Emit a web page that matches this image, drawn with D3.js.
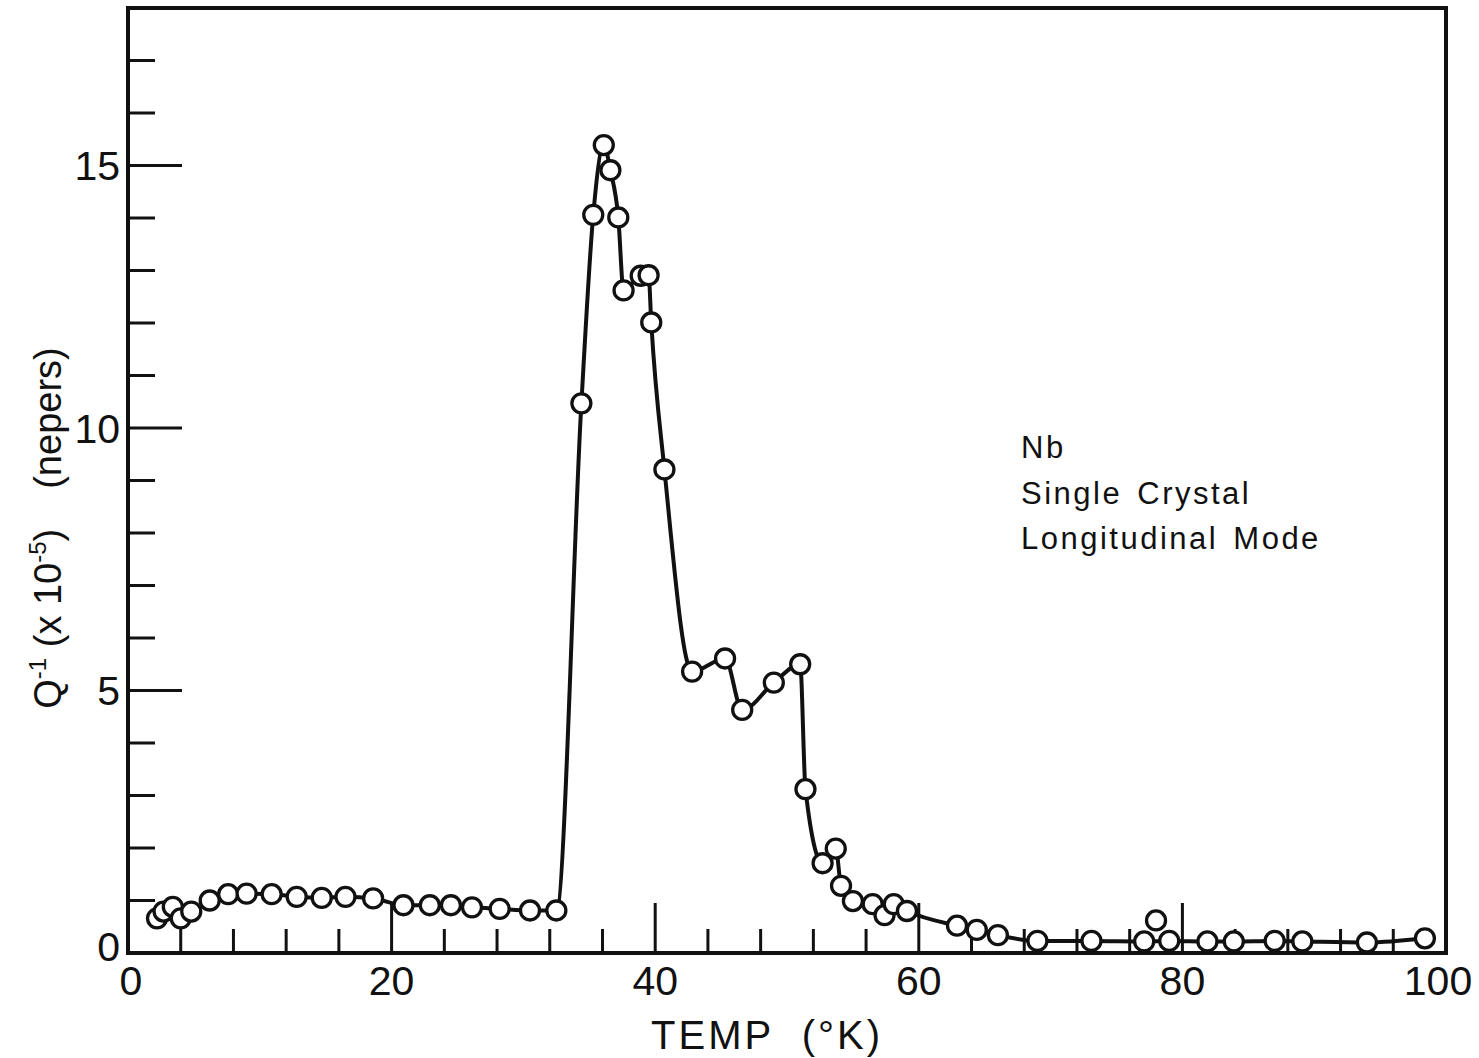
<!DOCTYPE html>
<html>
<head>
<meta charset="utf-8">
<script src="https://cdn.jsdelivr.net/npm/d3@7"></script>
<style>
  body { margin: 0; background: #fff; }
  text { font-family: "Liberation Sans", "DejaVu Sans", sans-serif; fill: #111; }
</style>
</head>
<body>
<div id="chart"></div>
<script>
// measured points, temperature (K) and Q^-1 (x 10^-5)
const temps = [2.2, 2.7, 3.4, 4.0, 4.8, 6.2, 7.6, 9.0, 10.9, 12.8, 14.7, 16.5, 18.6,
  20.9, 22.9, 24.5, 26.1, 28.2, 30.5, 32.5,
  34.4, 35.3, 36.1, 36.6, 37.2, 37.6, 38.9, 39.5, 39.7, 40.7,
  42.8, 45.3, 46.6, 49.0, 51.0, 51.4,
  52.7, 53.7, 54.1, 55.0, 56.5, 57.4, 58.1, 59.1,
  62.9, 64.4, 66.0, 69.0, 73.1, 77.1, 78.0, 79.0, 81.9, 83.9, 87.0, 89.1, 94.0, 98.4];
const qinv = [0.66, 0.79, 0.88, 0.66, 0.79, 1.0, 1.12, 1.13, 1.12, 1.07, 1.05, 1.07, 1.04,
  0.91, 0.91, 0.91, 0.87, 0.84, 0.81, 0.81,
  10.47, 14.06, 15.39, 14.91, 14.01, 12.62, 12.9, 12.91, 12.01, 9.21,
  5.36, 5.61, 4.63, 5.15, 5.5, 3.12,
  1.71, 1.99, 1.28, 0.99, 0.93, 0.72, 0.93, 0.8,
  0.52, 0.44, 0.34, 0.23, 0.23, 0.22, 0.62, 0.23, 0.22, 0.22, 0.23, 0.22, 0.2, 0.28];
// points the drawn curve does not pass through
const offCurve = [2.2, 4.0, 57.4, 78.0];

const xTicks = [0, 20, 40, 60, 80, 100];
const yTicks = [5, 10, 15];
const notes = ["Nb", "Single Crystal", "Longitudinal Mode"];

const width = 1479, height = 1058;
const margin = { top: 8, right: 33, bottom: 105, left: 128 };

const svg = d3.select("#chart").append("svg")
    .attr("width", width)
    .attr("height", height);

const x = d3.scaleLinear().domain([0, 100]).range([margin.left, width - margin.right]);
const y = d3.scaleLinear().domain([0, 18]).range([height - margin.bottom, margin.top]);

const pts = temps.map((t, i) => ({ t: t, q: qinv[i] }));

// frame
svg.append("rect")
    .attr("x", x(0)).attr("y", y(18))
    .attr("width", x(100) - x(0)).attr("height", y(0) - y(18))
    .attr("fill", "none").attr("stroke", "#111").attr("stroke-width", 4);

// inward ticks on bottom, every 4 K
svg.append("g")
    .selectAll("line")
    .data(d3.range(4, 100, 4))
    .join("line")
    .attr("x1", d => x(d)).attr("x2", d => x(d))
    .attr("y1", y(0))
    .attr("y2", d => y(0) - (d % 20 === 0 ? 50 : 24))
    .attr("stroke", "#111").attr("stroke-width", 3);

// inward ticks on left, every unit
svg.append("g")
    .selectAll("line")
    .data(d3.range(1, 18))
    .join("line")
    .attr("x1", x(0))
    .attr("x2", d => x(0) + (d % 5 === 0 ? 54 : 27))
    .attr("y1", d => y(d)).attr("y2", d => y(d))
    .attr("stroke", "#111").attr("stroke-width", 3);

// tick labels
svg.append("g")
    .selectAll("text")
    .data(xTicks)
    .join("text")
    .attr("x", d => x(d) + (d === 0 ? 3 : 0) - (d === 100 ? 8 : 0))
    .attr("y", y(0) + 42)
    .attr("text-anchor", "middle")
    .attr("font-size", "41px")
    .text(d => d);

svg.append("g")
    .selectAll("text")
    .data([0].concat(yTicks))
    .join("text")
    .attr("x", x(0) - 8)
    .attr("y", d => y(d))
    .attr("dy", d => d === 0 ? "0.2em" : "0.36em")
    .attr("text-anchor", "end")
    .attr("font-size", "41px")
    .text(d => d);

// axis titles
svg.append("text")
    .attr("x", 767)
    .attr("y", 1049)
    .attr("text-anchor", "middle")
    .attr("font-size", "40px")
    .attr("letter-spacing", "3px")
    .attr("xml:space", "preserve")
    .text("TEMP  (°K)");

const yt = svg.append("text")
    .attr("transform", "translate(61,528) rotate(-90)")
    .attr("text-anchor", "middle")
    .attr("font-size", "38px");
yt.append("tspan").text("Q");
yt.append("tspan").attr("dy", -15).attr("font-size", "24px").text("-1");
yt.append("tspan").attr("dy", 15).text(" (x 10");
yt.append("tspan").attr("dy", -15).attr("font-size", "24px").text("-5");
yt.append("tspan").attr("dy", 15).text(")");
yt.append("tspan").attr("dx", 40).text("(nepers)");

// curve through the measured points
const line = d3.line()
    .x(d => x(d.t))
    .y(d => y(d.q))
    .curve(d3.curveMonotoneX);

svg.append("path")
    .datum(pts.filter(d => !offCurve.includes(d.t)))
    .attr("d", line)
    .attr("fill", "none")
    .attr("stroke", "#111")
    .attr("stroke-width", 4);

svg.append("g")
    .selectAll("circle")
    .data(pts)
    .join("circle")
    .attr("cx", d => x(d.t))
    .attr("cy", d => y(d.q))
    .attr("r", 9.5)
    .attr("fill", "#fff")
    .attr("stroke", "#111")
    .attr("stroke-width", 3.3);

// sample note
svg.append("g")
    .selectAll("text")
    .data(notes)
    .join("text")
    .attr("x", 1021)
    .attr("y", (d, i) => 458 + i * 45.5)
    .attr("font-size", "31px")
    .attr("letter-spacing", "2.5px")
    .attr("word-spacing", "4px")
    .text(d => d);
</script>
</body>
</html>
